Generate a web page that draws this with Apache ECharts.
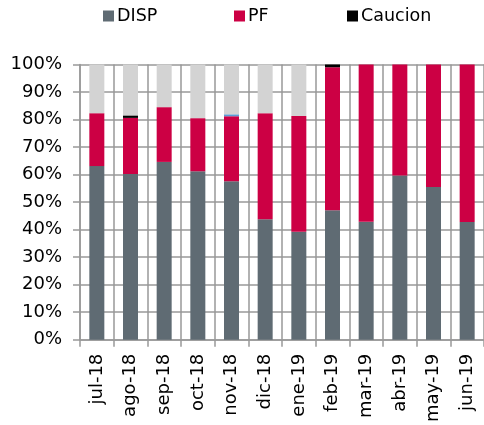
<!DOCTYPE html>
<html>
<head>
<meta charset="utf-8">
<script src="https://cdn.jsdelivr.net/npm/echarts@6/dist/echarts.min.js"></script>
<style>html,body{margin:0;padding:0;background:#fff}#c{width:484px;height:425px}</style>
</head>
<body>
<div id="c"></div>
<script>
var categories = ['jul-18','ago-18','sep-18','oct-18','nov-18','dic-18','ene-19','feb-19','mar-19','abr-19','may-19','jun-19'];
var disp    = [63.1, 60.2, 64.6, 61.2, 57.6, 43.8, 39.2, 47.0, 42.9, 59.7, 55.5, 42.8];
var pf      = [19.2, 20.4, 19.9, 19.3, 23.6, 38.5, 42.1, 52.0, 57.1, 40.3, 44.5, 57.2];
var caucion = [0, 0.9, 0, 0, 0, 0, 0, 1.0, 0, 0, 0, 0];
var otros   = [0, 0, 0, 0, 0.7, 0, 0, 0, 0, 0, 0, 0];
var resto   = [17.7, 18.5, 15.5, 19.5, 18.1, 17.7, 18.7, 0, 0, 0, 0, 0];
var yTicks = [0,10,20,30,40,50,60,70,80,90,100];
var legendNames = ['DISP','PF','Caucion'];

var font = 'DejaVu Sans, Arial, sans-serif';
var fs = 18;
var gridColor = '#999999';
var chart = echarts.init(document.getElementById('c'));
function bar(name, data, color) {
  return {name: name, type: 'bar', stack: 'a', data: data, barWidth: 15,
    itemStyle: {color: color}, silent: true, emphasis: {disabled: true}};
}
var legendLefts = [103, 234, 347];
var legends = legendNames.map(function(n, i){
  return {
    data: [n], left: legendLefts[i], top: 7, padding: 0,
    itemWidth: 11, itemHeight: 11, icon: 'rect',
    textStyle: {fontSize: 17.5, color: '#000', fontFamily: font, padding: [0,0,0,-2]},
    selectedMode: false
  };
});
chart.setOption({
  animation: false,
  textStyle: {fontFamily: font},
  legend: legends,
  grid: {left: 80, right: 0, top: 64.5, bottom: 82, containLabel: false},
  xAxis: {
    type: 'category', data: categories,
    axisLine: {lineStyle: {color: gridColor, width: 1.5}},
    axisTick: {show: true, length: 7, lineStyle: {color: gridColor, width: 1.5}},
    splitLine: {show: true, lineStyle: {color: gridColor, width: 1.5}},
    axisLabel: {rotate: 90, fontSize: fs, color: '#000', margin: 14, fontFamily: font}
  },
  yAxis: {
    type: 'value', min: 0, max: 100, interval: 10,
    axisLine: {show: true, lineStyle: {color: gridColor, width: 1.5}},
    axisTick: {show: true, length: 7, lineStyle: {color: gridColor, width: 1.5}},
    splitLine: {show: true, lineStyle: {color: gridColor, width: 1.5}},
    axisLabel: {fontSize: fs, color: '#000', margin: 18, fontFamily: font,
      formatter: function(v){ return yTicks.indexOf(v) >= 0 ? v + '%' : ''; }}
  },
  series: [
    bar('DISP', disp, '#5f6b73'),
    bar('PF', pf, '#cc0044'),
    bar('Caucion', caucion, '#000000'),
    bar('Otros', otros, '#5b9bd5'),
    bar('Resto', resto, '#d3d3d3')
  ]
});
</script>
</body>
</html>
